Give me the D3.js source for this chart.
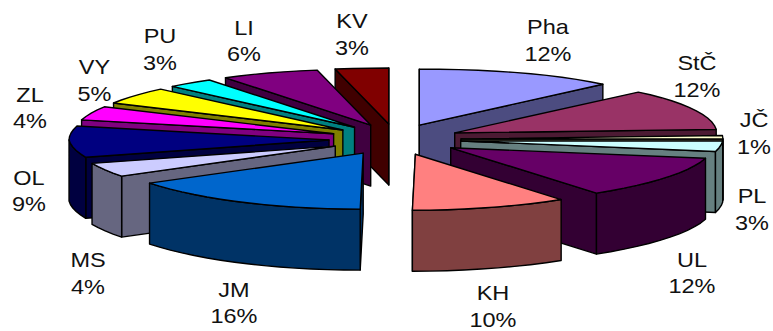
<!DOCTYPE html>
<html>
<head>
<meta charset="utf-8">
<script src="https://cdn.jsdelivr.net/npm/d3@7/dist/d3.min.js"></script>
<style>
  html, body { margin: 0; padding: 0; background: #fff; }
  svg { display: block; }
  text { font-family: "Liberation Sans", Arial, sans-serif; font-size: 21px; fill: #111; text-anchor: middle; }
</style>
</head>
<body>
<svg id="chart" width="773" height="331"></svg>
<script>
// Regional shares in percent, clockwise from twelve o'clock.
const regions = ["Pha", "StČ", "JČ", "PL", "UL", "KH", "JM", "MS", "OL", "ZL", "VY", "PU", "LI", "KV"];
const shares = [12, 12, 1, 3, 12, 10, 16, 4, 9, 4, 5, 3, 6, 3];
const topColors = ["#9999FF", "#993366", "#FFFFCC", "#CCFFFF", "#660066", "#FF8080", "#0066CC",
                   "#CCCCFF", "#000080", "#FF00FF", "#FFFF00", "#00FFFF", "#800080", "#800000"];
const sideColors = ["#4C4C80", "#4C1A33", "#808066", "#668080", "#330033", "#804040", "#003366",
                    "#666680", "#000040", "#800080", "#808000", "#008080", "#400040", "#400000"];

// Label centres: [x, first baseline]; the percentage sits on the following line.
const labelSpots = [[548, 34], [697, 70], [754, 127], [752, 203], [692, 266.5], [493, 300], [234, 296.5],
                    [88, 267], [29, 184.5], [30, 101.5], [94.5, 74], [160, 43], [244, 34.5], [352, 28]];
const lineGap = 27;

// Projection of the tilted, exploded pie.
const center = { x: 395, y: 139.5 };
const explode = { x: 66, y: 15.5 };
const depth = 61;
const tiltY = 56;
// Horizontal reach of the rim: stretched towards the rear, drawn in at the front,
// and a little shorter on the left half.
const radius = t => {
  const c = Math.cos(t);
  const base = Math.sin(t) < 0 ? 260 : 262;
  return base + (c > 0 ? 15 * Math.pow(c, 3) + 15 * Math.pow(c, 12) : 14 * c);
};
// The front edge drifts a few pixels to the left.
const lean = t => {
  const c = Math.cos(t);
  return c < 0 ? 3 * c * c * c : 0;
};

const unit = d3.scaleLinear().domain([-1, 1]);
const explodeX = unit.copy().range([-explode.x, explode.x]);
const explodeY = unit.copy().range([-explode.y, explode.y]);

const slices = d3.pie().sort(null).value(d => d)(shares);

const apex = s => {
  const mid = (s.startAngle + s.endAngle) / 2;
  return [center.x + explodeX(Math.sin(mid)), center.y - explodeY(Math.cos(mid))];
};
const rim = (s, t) => {
  const [ax, ay] = apex(s);
  return [ax + radius(t) * Math.sin(t) + lean(t), ay - tiltY * Math.cos(t)];
};
const down = p => [p[0], p[1] + depth];

const arcPoints = (s, a, b) => {
  const n = Math.max(1, Math.ceil((b - a) / (4 * Math.PI / 180)));
  return d3.range(n + 1).map(i => rim(s, a + (b - a) * i / n));
};

const line = d3.line().curve(d3.curveLinearClosed);
const svg = d3.select("#chart");

// Rear slices first so that front slices overlap them.
const paintOrder = [13, 12, 11, 10, 9, 8, 7, 6, 0, 1, 2, 3, 4, 5];

const groups = svg.selectAll("g.slice")
  .data(paintOrder.map(i => ({ i, s: slices[i] })))
  .join("g")
  .attr("class", "slice")
  .attr("stroke", "#000")
  .attr("stroke-width", 1.4)
  .attr("stroke-linejoin", "round");

groups.each(function ({ i, s }) {
  const g = d3.select(this);
  const a = apex(s);
  const t0 = s.startAngle, t1 = s.endAngle;
  const side = sideColors[i];

  // Cut faces that turn towards the viewer.
  if (Math.sin(t0) < 1e-6) {
    const p = rim(s, t0);
    g.append("path").attr("fill", side).attr("d", line([a, p, down(p), down(a)]));
  }
  if (Math.sin(t1) > -1e-6) {
    const p = rim(s, t1);
    g.append("path").attr("fill", side).attr("d", line([a, p, down(p), down(a)]));
  }

  // Outer wall along the front half of the rim.
  const w0 = Math.max(t0, Math.PI / 2), w1 = Math.min(t1, 3 * Math.PI / 2);
  if (w1 > w0) {
    const top = arcPoints(s, w0, w1);
    g.append("path").attr("fill", side)
      .attr("d", line(top.concat(top.map(down).reverse())));
  }

  // Top surface.
  g.append("path").attr("fill", topColors[i])
    .attr("d", line([a].concat(arcPoints(s, t0, t1))));
});

// Name and percentage labels.
const labels = svg.selectAll("g.label")
  .data(regions.map((name, i) => ({ name, value: shares[i], spot: labelSpots[i] })))
  .join("g")
  .attr("class", "label")
  .attr("transform", d => `translate(${d.spot[0]},${d.spot[1]}) scale(1.12,1)`);

labels.append("text").text(d => d.name);
labels.append("text").attr("y", lineGap).text(d => `${d.value}%`);
</script>
</body>
</html>
